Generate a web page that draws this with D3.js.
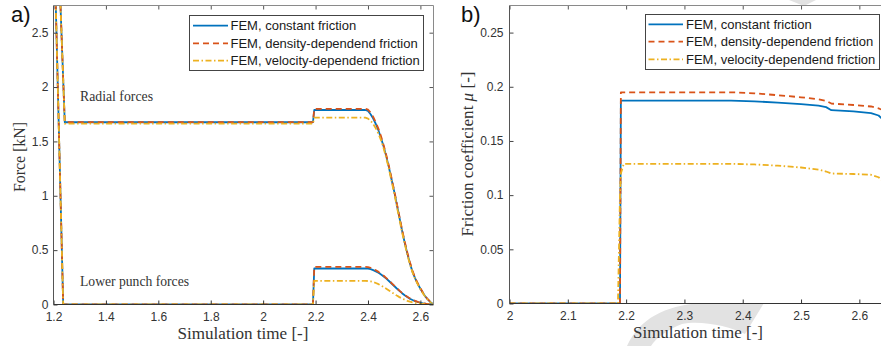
<!DOCTYPE html>
<html>
<head>
<meta charset="utf-8">
<script src="https://cdn.jsdelivr.net/npm/d3@7"></script>
<style>
  body { margin: 0; background: #fff; }
  svg { display: block; }
</style>
</head>
<body>
<svg id="chart" width="881" height="346"></svg>
<script>
// ---------- data ----------
const seriesNames = [
  "FEM, constant friction",
  "FEM, density-dependend friction",
  "FEM, velocity-dependend friction"
];

// a) forces over simulation time
const timeA = [1.2, 1.237, 1.243, 2.19, 2.195, 2.39, 2.40, 2.41, 2.42, 2.43, 2.44, 2.45,
  2.46, 2.47, 2.48, 2.49, 2.50, 2.51, 2.52, 2.53, 2.54, 2.55, 2.56, 2.57, 2.58, 2.59,
  2.60, 2.61, 2.62, 2.63, 2.64, 2.65];

const radialConstant = [4.5, 2.07, 1.676, 1.676, 1.789, 1.789, 1.78, 1.75, 1.71, 1.66, 1.60, 1.53,
  1.45, 1.36, 1.26, 1.15, 1.04, 0.92, 0.80, 0.68, 0.57, 0.47, 0.38, 0.30, 0.24, 0.19,
  0.145, 0.105, 0.07, 0.042, 0.018, 0];
const radialDensity = [4.5, 2.07, 1.678, 1.678, 1.80, 1.80, 1.792, 1.765, 1.725, 1.675, 1.615, 1.545,
  1.463, 1.372, 1.272, 1.162, 1.05, 0.93, 0.81, 0.69, 0.58, 0.48, 0.39, 0.31, 0.245, 0.195,
  0.15, 0.108, 0.072, 0.044, 0.019, 0];
const radialVelocity = [4.5, 2.07, 1.663, 1.663, 1.718, 1.718, 1.71, 1.69, 1.66, 1.62, 1.57, 1.51,
  1.435, 1.345, 1.245, 1.135, 1.025, 0.905, 0.785, 0.665, 0.56, 0.46, 0.37, 0.295, 0.235, 0.185,
  0.14, 0.102, 0.068, 0.04, 0.017, 0];

const punchConstant = [3.6, 0, 0, 0, 0.331, 0.331, 0.330, 0.325, 0.316, 0.305, 0.292, 0.276,
  0.258, 0.238, 0.216, 0.193, 0.170, 0.147, 0.125, 0.104, 0.085, 0.068, 0.053, 0.041, 0.031, 0.023,
  0.016, 0.011, 0.007, 0.004, 0.002, 0];
const punchDensity = [3.6, 0, 0, 0, 0.346, 0.346, 0.344, 0.338, 0.328, 0.315, 0.300, 0.283,
  0.264, 0.243, 0.221, 0.197, 0.173, 0.150, 0.128, 0.107, 0.088, 0.071, 0.056, 0.044, 0.034, 0.025,
  0.018, 0.012, 0.008, 0.005, 0.002, 0];
const punchVelocity = [3.6, 0, 0, 0, 0.217, 0.217, 0.216, 0.213, 0.207, 0.198, 0.187, 0.174,
  0.160, 0.145, 0.129, 0.113, 0.097, 0.082, 0.068, 0.055, 0.044, 0.034, 0.026, 0.019, 0.014, 0.010,
  0.007, 0.005, 0.003, 0.002, 0.001, 0];

// b) friction coefficient over simulation time
const timeB = [2.0, 2.186, 2.1895, 2.191, 2.196, 2.38, 2.42, 2.46, 2.50, 2.53, 2.543, 2.552,
  2.59, 2.62, 2.633, 2.64, 2.65];
const muConstant = [0, 0, 0, 0.1872, 0.1872, 0.1872, 0.1866, 0.1853, 0.1840, 0.1826, 0.1812, 0.1784,
  0.1773, 0.1757, 0.1735, 0.170, 0.162];
const muDensity = [0, 0, 0, 0.1949, 0.1949, 0.1949, 0.1940, 0.1922, 0.1903, 0.1885, 0.1870, 0.1845,
  0.1832, 0.1818, 0.1800, 0.1785, 0.175];
const muVelocity = [0, 0, 0.10, 0.120, 0.1289, 0.1289, 0.1283, 0.1272, 0.1255, 0.1235, 0.1218, 0.1200,
  0.1195, 0.1188, 0.1165, 0.113, 0.108];

const xTicksA = [1.2, 1.4, 1.6, 1.8, 2, 2.2, 2.4, 2.6];
const yTicksA = [0, 0.5, 1, 1.5, 2, 2.5];
const xTicksB = [2, 2.1, 2.2, 2.3, 2.4, 2.5, 2.6];
const yTicksB = [0, 0.05, 0.1, 0.15, 0.2, 0.25];

// ---------- styles ----------
const lineStyles = [
  { color: "#0072BD", dash: null },
  { color: "#D95319", dash: "6,4" },
  { color: "#EDB120", dash: "6,2.5,1.5,2.5" }
];
const sansFont = "'Liberation Sans', Arial, sans-serif";
const serifFont = "'Liberation Serif', 'Times New Roman', serif";

const svg = d3.select("#chart");

// light background marks behind the right panel
const wm = svg.append("g").attr("fill", "#e2e2e2");
wm.append("path").attr("d", "M627,346 C640,318 665,306 700,303 L764,303 L745,334 C730,326 700,320 682,324 C667,330 656,338 651,346 Z");
wm.append("path").attr("d", "M789,0 L816,0 L804,6 Z");

const fmt = d => String(+d.toFixed(2));

function drawPanel(cfg) {
  const { x, y, id } = cfg;
  const [x0, x1] = x.range();
  const [y1, y0] = y.range();
  const g = svg.append("g");

  g.append("rect")
    .attr("x", x0).attr("y", y0)
    .attr("width", x1 - x0).attr("height", y1 - y0)
    .attr("fill", "#fff");

  g.append("clipPath").attr("id", id)
    .append("rect")
    .attr("x", x0).attr("y", y0)
    .attr("width", x1 - x0).attr("height", y1 - y0);

  const line = d3.line()
    .x(d => x(d[0]))
    .y(d => y(d[1]));

  const lines = g.append("g").attr("clip-path", `url(#${id})`);
  cfg.groups.forEach(group => {
    group.forEach((vals, i) => {
      const pts = cfg.time.map((t, k) => [t, vals[k]]);
      lines.append("path")
        .attr("d", line(pts))
        .attr("fill", "none")
        .attr("stroke", lineStyles[i].color)
        .attr("stroke-width", 1.8)
        .attr("stroke-dasharray", lineStyles[i].dash)
        .attr("stroke-linejoin", "round");
    });
  });

  // axes with inward ticks
  const styleAxis = (sel, color) => {
    sel.select(".domain").remove();
    sel.selectAll(".tick line").attr("stroke", color).attr("stroke-width", 1);
    sel.selectAll(".tick text")
      .attr("fill", "#333")
      .style("font-family", sansFont)
      .style("font-size", "12px");
  };

  g.append("g").attr("transform", `translate(0,${y1})`)
    .call(d3.axisBottom(x).tickValues(cfg.xTicks).tickSize(-4).tickPadding(8).tickFormat(fmt))
    .call(s => styleAxis(s, "#333"));
  g.append("g").attr("transform", `translate(0,${y0})`)
    .call(d3.axisTop(x).tickValues(cfg.xTicks).tickSize(-4).tickFormat(""))
    .call(s => styleAxis(s, "#555"));
  g.append("g").attr("transform", `translate(${x0},0)`)
    .call(d3.axisLeft(y).tickValues(cfg.yTicks).tickSize(-4).tickPadding(cfg.yPad).tickFormat(fmt))
    .call(s => styleAxis(s, "#444"));
  if (cfg.rightBox) {
    g.append("g").attr("transform", `translate(${x1},0)`)
      .call(d3.axisRight(y).tickValues(cfg.yTicks).tickSize(-4).tickFormat(""))
      .call(s => styleAxis(s, "#555"));
  }

  // frame
  g.append("line").attr("x1", x0).attr("x2", x1).attr("y1", y1).attr("y2", y1).attr("stroke", "#333");
  g.append("line").attr("x1", x0).attr("x2", x0).attr("y1", y0).attr("y2", y1).attr("stroke", "#555");
  g.append("line").attr("x1", x0).attr("x2", x1).attr("y1", y0).attr("y2", y0).attr("stroke", "#8a8a8a");
  if (cfg.rightBox) {
    g.append("line").attr("x1", x1).attr("x2", x1).attr("y1", y0).attr("y2", y1).attr("stroke", "#8a8a8a");
  }

  // legend
  const L = cfg.legend;
  const lg = g.append("g");
  lg.append("rect")
    .attr("x", L.x).attr("y", L.y).attr("width", L.w).attr("height", L.h)
    .attr("fill", "#fff").attr("stroke", "#444").attr("stroke-width", 1);
  seriesNames.forEach((name, i) => {
    const ry = L.rows[i];
    lg.append("line")
      .attr("x1", L.lx0).attr("x2", L.lx1).attr("y1", ry).attr("y2", ry)
      .attr("stroke", lineStyles[i].color).attr("stroke-width", 1.8)
      .attr("stroke-dasharray", lineStyles[i].dash);
    lg.append("text")
      .attr("x", L.tx).attr("y", ry + 4.6)
      .attr("fill", "#1a1a1a")
      .style("font-family", sansFont).style("font-size", "13px")
      .text(name);
  });

  // axis titles
  g.append("text")
    .attr("x", cfg.xTitle.x).attr("y", cfg.xTitle.y)
    .attr("text-anchor", "middle")
    .attr("fill", "#333")
    .attr("textLength", cfg.xTitle.len).attr("lengthAdjust", "spacingAndGlyphs")
    .style("font-family", serifFont).style("font-size", "16px")
    .text("Simulation time [-]");

  const yt = g.append("text")
    .attr("transform", `translate(${cfg.yTitle.x},${cfg.yTitle.y}) rotate(-90)`)
    .attr("text-anchor", "middle")
    .attr("fill", "#333")
    .attr("textLength", cfg.yTitle.len).attr("lengthAdjust", "spacingAndGlyphs")
    .style("font-family", serifFont).style("font-size", "16px");
  cfg.yTitle.parts.forEach(p => {
    yt.append("tspan").style("font-style", p.italic ? "italic" : "normal").text(p.t);
  });

  // panel letter
  g.append("text")
    .attr("x", cfg.letter.x).attr("y", cfg.letter.y)
    .attr("fill", "#111")
    .style("font-family", sansFont).style("font-size", "22px")
    .text(cfg.letter.t);

  return g;
}

// ---------- panel a ----------
const xA = d3.scaleLinear().domain([1.2, 2.65]).range([53.5, 433.5]);
const yA = d3.scaleLinear().domain([0, 2.75]).range([304.5, 5.5]);

const gA = drawPanel({
  id: "clipA", x: xA, y: yA, time: timeA,
  groups: [[radialConstant, radialDensity, radialVelocity], [punchConstant, punchDensity, punchVelocity]],
  xTicks: xTicksA, yTicks: yTicksA, yPad: 5, rightBox: true,
  legend: { x: 189.5, y: 15.5, w: 234, h: 55, lx0: 193, lx1: 228, tx: 230.5, rows: [25.7, 43.3, 60.7] },
  xTitle: { x: 243, y: 339, len: 131 },
  yTitle: { x: 24.5, y: 157, len: 70, parts: [{ t: "Force [kN]" }] },
  letter: { x: 11, y: 22, t: "a)" }
});

gA.append("text").attr("x", 80).attr("y", 101)
  .attr("fill", "#333").attr("textLength", 73).attr("lengthAdjust", "spacingAndGlyphs")
  .style("font-family", serifFont).style("font-size", "14px")
  .text("Radial forces");
gA.append("text").attr("x", 80).attr("y", 286)
  .attr("fill", "#333").attr("textLength", 109).attr("lengthAdjust", "spacingAndGlyphs")
  .style("font-family", serifFont).style("font-size", "14px")
  .text("Lower punch forces");

// ---------- panel b ----------
const xB = d3.scaleLinear().domain([2.0, 2.65]).range([509.5, 888.5]);
const yB = d3.scaleLinear().domain([0, 0.275]).range([303.5, 5.5]);

drawPanel({
  id: "clipB", x: xB, y: yB, time: timeB,
  groups: [[muConstant, muDensity, muVelocity]],
  xTicks: xTicksB, yTicks: yTicksB, yPad: 6, rightBox: false,
  legend: { x: 645.5, y: 14.5, w: 234, h: 55, lx0: 648.5, lx1: 683, tx: 686, rows: [24.3, 41.7, 59.3] },
  xTitle: { x: 698, y: 338, len: 130 },
  yTitle: { x: 473, y: 154, len: 165, parts: [{ t: "Friction coefficient " }, { t: "μ", italic: true }, { t: " [-]" }] },
  letter: { x: 461, y: 22, t: "b)" }
});
</script>
</body>
</html>
